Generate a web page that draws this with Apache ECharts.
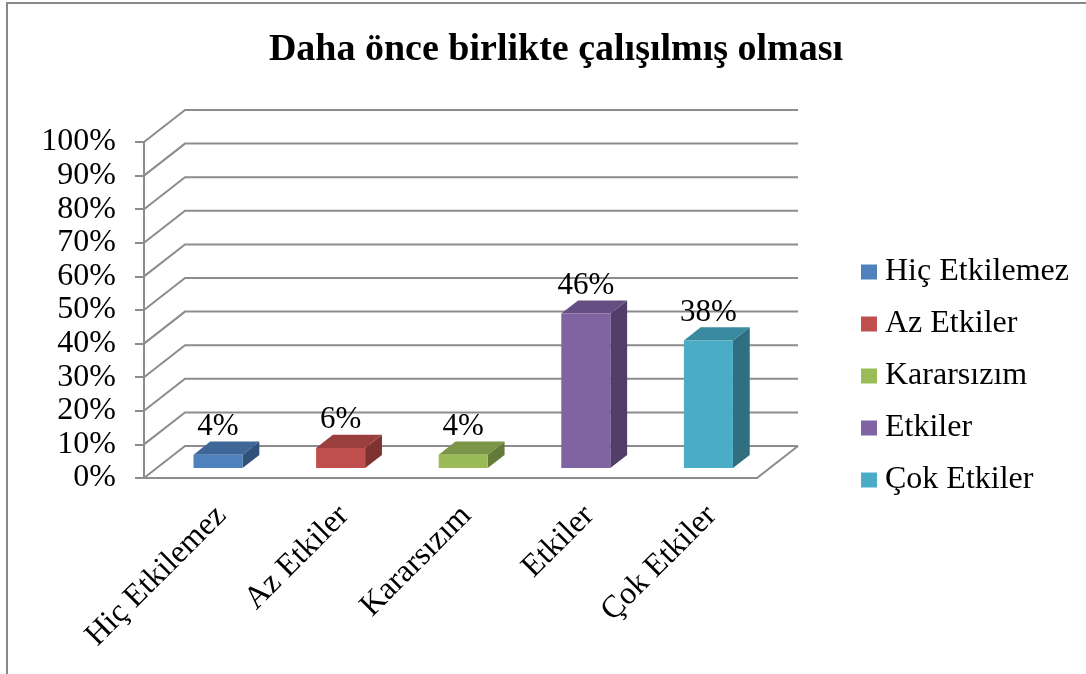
<!DOCTYPE html>
<html>
<head>
<meta charset="utf-8">
<script src="https://cdn.jsdelivr.net/npm/echarts@6/dist/echarts.min.js"></script>
<style>
html,body{margin:0;padding:0;background:#fff;}
#chart{width:1086px;height:674px;}
</style>
</head>
<body>
<div id="chart"></div>
<script>
var title = 'Daha önce birlikte çalışılmış olması';
var categories = ['Hiç Etkilemez', 'Az Etkiler', 'Kararsızım', 'Etkiler', 'Çok Etkiler'];
var values = [4, 6, 4, 46, 38];
var yTicks = [0, 10, 20, 30, 40, 50, 60, 70, 80, 90, 100];
var frontColors = ['#4F81BD', '#C0504D', '#9BBB59', '#8064A2', '#4BACC6'];
var topColors = ['#3E6696', '#9A3F3D', '#7B9547', '#654F82', '#3A8A9F'];
var sideColors = ['#31517A', '#7E3330', '#637A38', '#513F69', '#2F6F80'];

var FONT = '"Liberation Serif", "Times New Roman", serif';
var DEPTH = [41, -32];          // wall depth in px
var B0 = 0.31, B1 = 0.72;       // bar front/back fraction of depth
var GRID_COLOR = '#8C8C8C';

var chart = echarts.init(document.getElementById('chart'), null, {renderer: 'canvas'});

function wallRender(params, api) {
  var cs = params.coordSys;
  var L = cs.x, R = cs.x + cs.width;
  var v = api.value(0);
  var y = api.coord([0, v])[1];
  var children = [{
    type: 'polyline',
    shape: {points: [[L, y], [L + DEPTH[0], y + DEPTH[1]], [R + DEPTH[0], y + DEPTH[1]]]},
    style: {stroke: GRID_COLOR, lineWidth: 2, fill: null}
  }];
  if (v === 0) {
    children.push({
      type: 'line',
      shape: {x1: R, y1: y, x2: R + DEPTH[0], y2: y + DEPTH[1]},
      style: {stroke: GRID_COLOR, lineWidth: 2}
    });
  }
  return {type: 'group', children: children};
}

function barRender(idx) {
  return function (params, api) {
    var ci = api.value(0), val = api.value(1);
    var c0 = api.coord([ci, 0]);
    var c1 = api.coord([ci, val]);
    var band = api.size([1, 0])[0];
    var w = band * 0.4;
    var ox = DEPTH[0] * B0, oy = DEPTH[1] * B0;
    var dx = DEPTH[0] * (B1 - B0), dy = DEPTH[1] * (B1 - B0);
    var xL = c0[0] - w / 2 + ox, xR = xL + w;
    var yB = c0[1] + oy, yT = c1[1] + oy;
    return {
      type: 'group',
      children: [
        {type: 'polygon', shape: {points: [[xR, yT], [xR + dx, yT + dy], [xR + dx, yB + dy], [xR, yB]]},
          style: {fill: sideColors[idx]}},
        {type: 'polygon', shape: {points: [[xL, yT], [xR, yT], [xR + dx, yT + dy], [xL + dx, yT + dy]]},
          style: {fill: topColors[idx]}},
        {type: 'rect', shape: {x: xL, y: yT, width: w, height: yB - yT},
          style: {fill: frontColors[idx]}},
        {type: 'text', x: xL + w / 2, y: yT + dy + 1,
          style: {text: val + '%', fill: '#000', font: '31px ' + FONT, textAlign: 'center', textVerticalAlign: 'bottom'}}
      ]
    };
  };
}

var series = [{
  type: 'custom',
  name: '_walls',
  renderItem: wallRender,
  data: yTicks.map(function (t) { return [t]; }),
  encode: {y: 0},
  silent: true,
  z: 1
}];
categories.forEach(function (name, i) {
  series.push({
    type: 'custom',
    name: name,
    renderItem: barRender(i),
    data: [[i, values[i]]],
    encode: {x: 0, y: 1},
    itemStyle: {color: frontColors[i]},
    z: 5
  });
});

var option = {
  animation: false,
  backgroundColor: '#fff',
  title: {
    text: title,
    left: 551,
    textAlign: 'center',
    top: 26,
    textStyle: {fontFamily: FONT, fontWeight: 'bold', fontSize: 38, color: '#000'}
  },
  legend: {
    orient: 'vertical',
    left: 861,
    top: 256,
    padding: 0,
    itemWidth: 16,
    itemHeight: 15,
    itemGap: 20,
    icon: 'rect',
    data: categories,
    textStyle: {fontFamily: FONT, fontSize: 32, color: '#000', padding: [0, 0, 0, 3]}
  },
  grid: [
    {left: 144, right: 329, top: 142, bottom: 196, containLabel: false},
    {left: 160, right: 313, top: 142, bottom: 196, containLabel: false}
  ],
  xAxis: [{
    type: 'category',
    data: categories,
    axisLine: {show: true, lineStyle: {color: GRID_COLOR, width: 2}},
    axisTick: {show: false},
    splitLine: {show: false},
    axisLabel: {show: false}
  }, {
    type: 'category',
    gridIndex: 1,
    data: categories,
    axisLine: {show: false},
    axisTick: {show: false},
    splitLine: {show: false},
    axisLabel: {rotate: 45, margin: 33, interval: 0, fontFamily: FONT, fontSize: 32, color: '#000'}
  }],
  yAxis: [{
    type: 'value',
    min: 0, max: 100, interval: 10,
    axisLine: {show: true, lineStyle: {color: GRID_COLOR, width: 2}},
    axisTick: {show: true, inside: false, length: 9, lineStyle: {color: GRID_COLOR, width: 2}},
    splitLine: {show: false},
    axisLabel: {formatter: '{value}%', margin: 28, fontFamily: FONT, fontSize: 32, color: '#000'}
  }, {
    type: 'value',
    gridIndex: 1,
    min: 0, max: 100, interval: 10,
    show: false
  }],
  graphic: [{
    type: 'rect',
    shape: {x: 7, y: 3, width: 1200, height: 800},
    style: {fill: null, stroke: '#888', lineWidth: 2},
    silent: true,
    z: -10
  }],
  series: series
};
chart.setOption(option);
</script>
</body>
</html>
